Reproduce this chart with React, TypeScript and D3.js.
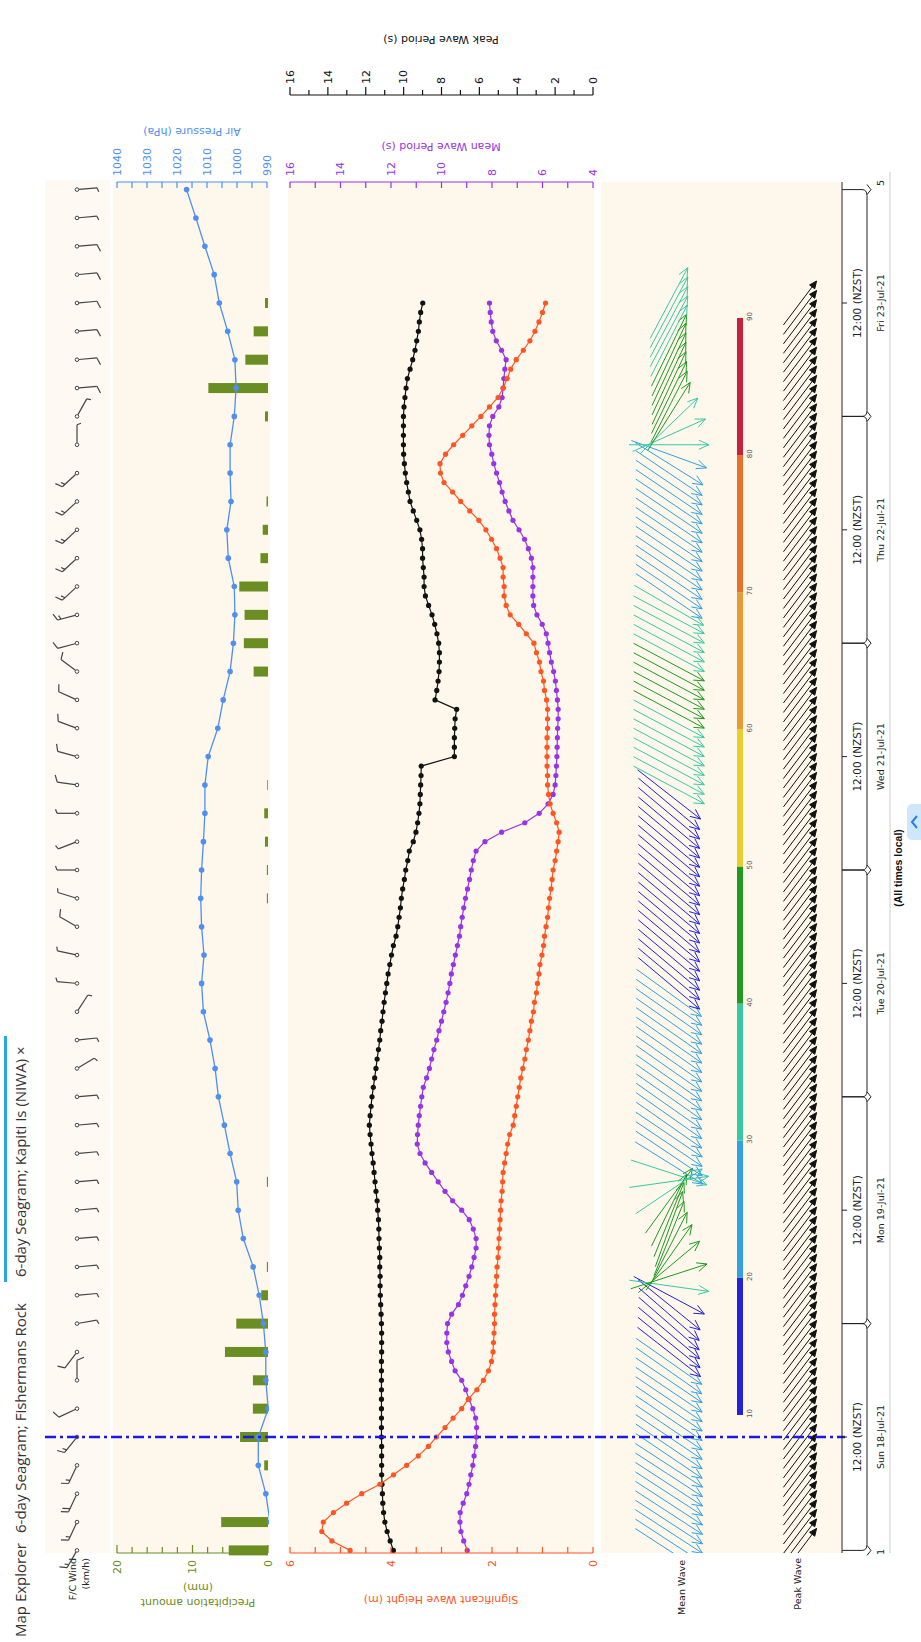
import React from 'react';
import * as d3 from 'd3';

// The chart is laid out as a landscape meteogram (1642 x 921) and rotated onto the portrait page.
const LW = 1642;
const PAGE_W = 921;

const dayLabels = ['Sun 18-Jul-21', 'Mon 19-Jul-21', 'Tue 20-Jul-21', 'Wed 21-Jul-21', 'Thu 22-Jul-21', 'Fri 23-Jul-21'];
const hourly = d3.range(0, 133);
const threeHourly = d3.range(0, 145, 3);

// significant wave height (m), hourly
const waveHeight = [
  4.81, 5.17, 5.37, 5.34, 5.14, 4.88, 4.58, 4.22, 3.95, 3.69, 3.46, 3.26, 3.10, 2.93, 2.77, 2.60, 2.47, 2.30, 2.17, 2.07,
  2.01, 1.98, 1.97, 1.96, 1.95, 1.95, 1.94, 1.93, 1.92, 1.91, 1.90, 1.88, 1.87, 1.86, 1.85, 1.84, 1.83, 1.82, 1.80, 1.79,
  1.78, 1.75, 1.72, 1.69, 1.65, 1.58, 1.55, 1.52, 1.49, 1.46, 1.43, 1.39, 1.35, 1.32, 1.28, 1.25, 1.22, 1.18, 1.16, 1.12,
  1.10, 1.07, 1.05, 1.01, 0.98, 0.96, 0.93, 0.90, 0.88, 0.86, 0.83, 0.81, 0.79, 0.75, 0.72, 0.69, 0.67, 0.72, 0.79, 0.85,
  0.88, 0.90, 0.90, 0.91, 0.91, 0.91, 0.91, 0.90, 0.90, 0.90, 0.92, 0.96, 0.98, 1.03, 1.06, 1.12, 1.17, 1.32, 1.47, 1.64,
  1.72, 1.76, 1.76, 1.78, 1.78, 1.84, 1.91, 2.01, 2.12, 2.26, 2.44, 2.62, 2.78, 2.95, 3.02, 3.03, 2.92, 2.76, 2.58, 2.40,
  2.22, 2.05, 1.88, 1.78, 1.70, 1.63, 1.52, 1.38, 1.25, 1.15, 1.07, 1.00, 0.94,
];

// mean wave period (s), hourly
const meanPeriod = [
  8.98, 9.12, 9.23, 9.27, 9.26, 9.14, 9.00, 8.91, 8.84, 8.76, 8.71, 8.65, 8.62, 8.61, 8.65, 8.76, 8.91, 9.04, 9.20, 9.46,
  9.60, 9.73, 9.79, 9.79, 9.76, 9.60, 9.33, 9.17, 9.04, 8.91, 8.80, 8.71, 8.63, 8.63, 8.74, 8.90, 9.20, 9.56, 9.86, 10.13,
  10.39, 10.65, 10.85, 10.96, 10.95, 10.92, 10.88, 10.83, 10.78, 10.72, 10.59, 10.48, 10.39, 10.30, 10.19, 10.10, 10.00, 9.91, 9.82, 9.74,
  9.67, 9.61, 9.53, 9.45, 9.37, 9.29, 9.24, 9.18, 9.12, 9.05, 8.97, 8.89, 8.82, 8.74, 8.63, 8.28, 7.62, 6.70, 6.13, 5.78,
  5.58, 5.50, 5.47, 5.45, 5.43, 5.42, 5.41, 5.40, 5.38, 5.38, 5.41, 5.45, 5.49, 5.56, 5.65, 5.72, 5.78, 5.85, 6.01, 6.22,
  6.35, 6.38, 6.38, 6.38, 6.38, 6.44, 6.56, 6.71, 6.93, 7.17, 7.33, 7.48, 7.60, 7.70, 7.82, 7.93, 8.01, 8.10, 8.12, 8.10,
  7.97, 7.73, 7.60, 7.56, 7.53, 7.49, 7.44, 7.62, 7.83, 7.97, 8.03, 8.07, 8.10,
];

// peak wave period (s), hourly
const peakPeriod = [
  10.54, 10.71, 10.87, 10.99, 11.06, 11.10, 11.12, 11.14, 11.16, 11.16, 11.16, 11.16, 11.17, 11.17, 11.17, 11.17, 11.17, 11.17, 11.17, 11.17,
  11.17, 11.16, 11.16, 11.16, 11.17, 11.19, 11.21, 11.23, 11.24, 11.24, 11.26, 11.26, 11.28, 11.30, 11.31, 11.33, 11.37, 11.40, 11.46, 11.51,
  11.56, 11.61, 11.67, 11.72, 11.77, 11.81, 11.77, 11.72, 11.67, 11.60, 11.53, 11.46, 11.40, 11.33, 11.26, 11.21, 11.14, 11.09, 11.03, 10.96,
  10.89, 10.82, 10.73, 10.64, 10.54, 10.40, 10.31, 10.24, 10.17, 10.12, 10.05, 9.96, 9.89, 9.78, 9.70, 9.49, 9.35, 9.26, 9.19, 9.14,
  9.12, 9.10, 9.08, 9.07, 7.32, 7.32, 7.32, 7.30, 7.28, 7.20, 8.34, 8.25, 8.18, 8.13, 8.11, 8.11, 8.15, 8.24, 8.36, 8.50,
  8.68, 8.85, 8.92, 8.92, 8.96, 9.00, 9.00, 9.05, 9.14, 9.31, 9.49, 9.66, 9.75, 9.84, 9.91, 9.96, 10.00, 10.01, 10.01, 10.01,
  10.01, 9.98, 9.93, 9.87, 9.80, 9.66, 9.52, 9.40, 9.31, 9.22, 9.17, 9.10, 8.99,
];

// air pressure (hPa), 3-hourly
const pressure = [
  986.0, 989.0, 990.4, 992.9, 992.9, 989.6, 990.4, 990.4, 991.2, 992.6, 994.6, 997.9, 999.6, 1000.1, 1002.3, 1004.2, 1006.2,
  1007.3, 1009.0, 1011.2, 1011.8, 1011.0, 1011.8, 1012.1, 1011.8, 1011.2, 1010.7, 1010.7, 1009.6, 1006.4, 1004.6, 1002.3, 1001.2,
  1000.7, 1000.9, 1002.9, 1003.4, 1002.0, 1002.3, 1002.3, 1000.9, 1000.3, 1000.7, 1003.1, 1005.9, 1007.6, 1010.7, 1013.7, 1016.8,
];

// precipitation amount (mm), 3-hourly
const precip = [
  5.2, 6.2, 0, 0.5, 3.7, 2.0, 2.0, 5.7, 4.2, 0.9, 0.15, 0, 0, 0.15, 0, 0, 0,
  0, 0, 0, 0, 0, 0, 0.15, 0.15, 0.4, 0.5, 0.1, 0, 0, 0, 1.9, 3.2,
  3.1, 3.8, 1.0, 0.7, 0.2, 0, 0, 0.4, 7.9, 3.0, 1.9, 0.4, 0, 0, 0, 0,
];

// forecast wind, 3-hourly: direction (deg, from) and speed (km/h)
const windDir = [
  300, 295, 295, 295, 309, 335, 90, 307, 170, 175, 175, 175, 175, 175, 175, 175, 175,
  149, 174, 123, 5, 12, 30, 17, 0, 339, 0, 8, 15, 20, 24, 37, 345,
  345, 317, 317, 317, 317, 317, 90, 119, 175, 175, 175, 175, 175, 175, 175, 175,
];
const windSpeed = [
  30, 35, 40, 35, 30, 25, 20, 25, 15, 12, 12, 12, 12, 12, 12, 12, 12,
  12, 15, 12, 15, 12, 20, 15, 15, 15, 15, 20, 20, 22, 22, 20, 25,
  30, 30, 32, 35, 32, 30, 12, 15, 20, 20, 22, 22, 20, 20, 18, 15,
];

// mean wave: direction of travel (deg) and colour value, hourly
const meanWaveDir = [
  213, 213, 213, 213, 213, 213, 213, 213, 213, 213, 214, 214, 214, 214, 214, 214, 214, 214, 214, 215,
  215, 218, 219, 220, 221, 221, 219, 208, 188, 162, 140, 125, 117, 112, 110, 112, 116, 126, 146, 172,
  198, 212, 214, 214, 214, 215, 215, 215, 215, 215, 215, 215, 215, 215, 215, 215, 215, 215, 215, 216,
  220, 220, 220, 220, 220, 220, 220, 220, 220, 220, 220, 220, 220, 220, 220, 220, 220, 220, 220, 220,
  218, 208, 208, 208, 208, 208, 208, 208, 208, 208, 208, 208, 208, 208, 208, 208, 208, 208, 208, 208,
  210, 214, 214, 214, 214, 214, 214, 214, 214, 214, 214, 214, 214, 214, 214, 212, 200, 180, 156, 136,
  122, 117, 116, 115, 115, 115, 115, 116, 117, 118, 118, 118, 118,
];
const meanWaveCol = [
  25, 25, 25, 25, 25, 25, 25, 25, 25, 25, 25, 25, 25, 25, 25, 25, 25, 25, 25, 25,
  25, 15, 15, 15, 15, 15, 15, 15, 35, 45, 45, 45, 45, 45, 45, 45, 45, 45, 35, 35,
  35, 25, 25, 25, 25, 25, 25, 25, 25, 25, 25, 25, 25, 25, 25, 25, 25, 25, 25, 25,
  15, 15, 15, 15, 15, 15, 15, 15, 15, 15, 15, 15, 15, 15, 15, 15, 15, 15, 15, 15,
  15, 35, 35, 35, 35, 35, 35, 35, 35, 45, 45, 45, 45, 45, 45, 35, 35, 35, 35, 35,
  35, 25, 25, 25, 25, 25, 25, 25, 25, 25, 25, 25, 25, 25, 25, 25, 25, 35, 35, 35,
  45, 45, 45, 45, 45, 45, 45, 45, 35, 35, 35, 35, 35,
];
// peak wave: direction of travel (deg), hourly
const peakWaveDir = [
  127, 127, 127, 127, 127, 127, 127, 127, 127, 127, 127, 127, 127, 127, 127, 127, 127, 127, 127, 127,
  127, 127, 127, 127, 127, 127, 127, 127, 127, 127, 127, 127, 127, 127, 127, 127, 127, 127, 127, 127,
  127, 127, 127, 127, 127, 127, 127, 127, 127, 127, 127, 127, 127, 127, 127, 127, 127, 127, 127, 127,
  127, 127, 127, 127, 127, 127, 127, 127, 127, 127, 127, 127, 127, 127, 127, 127, 127, 127, 127, 127,
  127, 127, 127, 127, 127, 127, 127, 127, 127, 127, 127, 127, 127, 127, 127, 127, 127, 127, 127, 127,
  127, 127, 127, 127, 127, 127, 127, 127, 127, 127, 127, 127, 127, 127, 127, 127, 127, 127, 127, 127,
  127, 127, 127, 127, 127, 127, 127, 127, 127, 127, 127, 127, 127,
];

const colorStops = [10, 20, 30, 40, 50, 60, 70, 80, 90];
const colorBands = ['#2222dd', '#33a0e4', '#38c9a4', '#1f9b1f', '#e6cf2a', '#e89b33', '#e8702a', '#c8203f'];

const PLOT_L = 89;
const PLOT_R = 1460;
const ORANGE = '#ff5522';
const PURPLE = '#9933e6';
const PBLUE = '#4f8ff2';
const OLIVE = '#6b8e23';
const PANEL = '#fdf7ec';
const FONT = 'DejaVu Sans, Verdana, sans-serif';

const x = d3.scaleLinear().domain([0, 144]).range([91.6, 1452.4]);
const yHs = d3.scaleLinear().domain([0, 6]).range([593, 290]);
const yTm = d3.scaleLinear().domain([4, 16]).range([593, 290]);
const yTp = d3.scaleLinear().domain([0, 16]).range([593, 290]);
const yPres = d3.scaleLinear().domain([990, 1040]).range([267, 117]);
const yRain = d3.scaleLinear().domain([0, 20]).range([268, 117]);
const xColor = d3.scaleLinear().domain([10, 90]).range([227, 1324]);
const colorOf = d3.scaleThreshold<number, string>().domain(colorStops.slice(1, -1)).range(colorBands);

function Barb({ cx, cy, dir, speed }: { cx: number; cy: number; dir: number; speed: number }) {
  const r = (dir * Math.PI) / 180;
  const ux = Math.sin(r);
  const uy = -Math.cos(r);
  const L = 20;
  const ex = cx + ux * L;
  const ey = cy + uy * L;
  const nx = -uy;
  const ny = ux;
  const full = Math.floor(speed / 18.5);
  const half = speed % 18.5 >= 9 ? 1 : 0;
  const feathers: string[] = [];
  let k = 0;
  for (let i = 0; i < full; i++, k++) {
    const bx = ex - ux * k * 3.5;
    const by = ey - uy * k * 3.5;
    feathers.push(`M${bx},${by}L${bx + nx * 7 + ux * 3},${by + ny * 7 + uy * 3}`);
  }
  if (half) {
    const bx = ex - ux * k * 3.5;
    const by = ey - uy * k * 3.5;
    feathers.push(`M${bx},${by}L${bx + nx * 4 + ux * 1.5},${by + ny * 4 + uy * 1.5}`);
  }
  return (
    <g stroke="#444" fill="none" strokeWidth={1.2}>
      <circle cx={cx} cy={cy} r={1.8} fill="#fff" strokeWidth={1} />
      <path d={`M${cx + ux * 2},${cy + uy * 2}L${ex},${ey}`} />
      {feathers.map((d, i) => (
        <path key={i} d={d} />
      ))}
    </g>
  );
}

function Arrow({ cx, cy, dir, len, color, filled, head }: any) {
  const r = (dir * Math.PI) / 180;
  const ux = Math.sin(r);
  const uy = -Math.cos(r);
  const tx = cx - (ux * len) / 2;
  const ty = cy - (uy * len) / 2;
  const hx = cx + (ux * len) / 2;
  const hy = cy + (uy * len) / 2;
  const a = (24 * Math.PI) / 180;
  const w1x = hx - head * (ux * Math.cos(a) - uy * Math.sin(a));
  const w1y = hy - head * (uy * Math.cos(a) + ux * Math.sin(a));
  const w2x = hx - head * (ux * Math.cos(a) + uy * Math.sin(a));
  const w2y = hy - head * (uy * Math.cos(a) - ux * Math.sin(a));
  return (
    <g stroke={color} strokeWidth={1} fill={filled ? color : 'none'}>
      <line x1={tx} y1={ty} x2={hx} y2={hy} />
      {filled ? (
        <path d={`M${hx},${hy}L${w1x},${w1y}L${w2x},${w2y}Z`} />
      ) : (
        <path d={`M${w1x},${w1y}L${hx},${hy}L${w2x},${w2y}`} />
      )}
    </g>
  );
}

export default function App() {
  const hsLine = d3.line<number>().x((t) => x(t)).y((t) => yHs(waveHeight[t]));
  const tmLine = d3.line<number>().x((t) => x(t)).y((t) => yTm(meanPeriod[t]));
  const tpLine = d3.line<number>().x((t) => x(t)).y((t) => yTp(peakPeriod[t]));
  const presLine = d3.line<number>().x((t) => x(t)).y((t, i) => yPres(pressure[i]));

  const days = d3.range(0, 6);
  const nowX = x(12);

  return (
    <div style={{ position: 'absolute', left: 0, top: 0 }}>
      <svg width={PAGE_W} height={LW} style={{ display: 'block', background: '#fff' }}>
        <defs>
          <clipPath id="clipPres">
            <rect x={PLOT_L} y={113} width={PLOT_R - PLOT_L} height={156} />
          </clipPath>
          <clipPath id="clipArrows">
            <rect x={PLOT_L} y={600} width={PLOT_R - PLOT_L} height={240} />
          </clipPath>
        </defs>
        <g transform={`translate(0,${LW}) rotate(-90)`} fontFamily={FONT}>
          {/* title bar */}
          <text x={5} y={26} fontSize={15} fill="#333" fontFamily="Open Sans, sans-serif">Map Explorer</text>
          <text x={109} y={26} fontSize={15} fill="#333" fontFamily="Open Sans, sans-serif">6-day Seagram; Fishermans Rock</text>
          <rect x={360} y={4} width={246} height={3} fill="#29a8e0" />
          <text x={365} y={26} fontSize={15} fill="#333" fontFamily="Open Sans, sans-serif">6-day Seagram; Kapiti Is (NIWA)  ×</text>

          {/* panel backgrounds */}
          <rect x={PLOT_L} y={45} width={PLOT_R - PLOT_L + 2} height={65} fill="#fefaf3" />
          <rect x={PLOT_L} y={113} width={PLOT_R - PLOT_L} height={157} fill={PANEL} />
          <rect x={PLOT_L} y={288} width={PLOT_R - PLOT_L} height={306} fill={PANEL} />
          <rect x={PLOT_L} y={601} width={PLOT_R - PLOT_L} height={240} fill={PANEL} />

          {/* wind */}
          <text x={84} y={76} fontSize={9.5} textAnchor="end" fill="#222">F/C Wind</text>
          <text x={84} y={89} fontSize={9.5} textAnchor="end" fill="#222">(km/h)</text>
          {threeHourly.map((t, i) => (
            <Barb key={t} cx={x(t)} cy={77} dir={windDir[i]} speed={windSpeed[i]} />
          ))}

          {/* precipitation bars */}
          {threeHourly.map((t, i) =>
            precip[i] > 0 ? (
              <rect key={t} x={x(t) - 5} y={yRain(precip[i])} width={10} height={yRain(0) - yRain(precip[i])} fill={OLIVE} />
            ) : null
          )}
          {/* pressure */}
          <g clipPath="url(#clipPres)">
            <path d={presLine(threeHourly) || ''} fill="none" stroke={PBLUE} strokeWidth={1.3} />
            {threeHourly.map((t, i) => (
              <circle key={t} cx={x(t)} cy={yPres(pressure[i])} r={2.8} fill={PBLUE} />
            ))}
          </g>

          {/* precipitation axis */}
          <g stroke={OLIVE} strokeWidth={1.2}>
            <line x1={PLOT_L} x2={PLOT_L} y1={yRain(20)} y2={yRain(0)} />
            {d3.range(0, 21, 2).map((v) => (
              <line key={v} x1={PLOT_L} x2={PLOT_L + (v % 10 === 0 ? 8 : 6)} y1={yRain(v)} y2={yRain(v)} />
            ))}
          </g>
          {[0, 10, 20].map((v) => (
            <text key={v} x={82} y={yRain(v)} dy="0.35em" textAnchor="end" fontSize={11} fill={OLIVE}>{v}</text>
          ))}
          <g transform="translate(43,198) rotate(-90)">
            <text textAnchor="middle" fontSize={11} fill={OLIVE}>Precipitation amount</text>
            <text y={15} textAnchor="middle" fontSize={11} fill={OLIVE}>(mm)</text>
          </g>

          {/* pressure axis */}
          <g stroke={PBLUE} strokeWidth={1.2}>
            <line x1={PLOT_R} x2={PLOT_R} y1={yPres(1040)} y2={yPres(990)} />
            {d3.range(990, 1041, 5).map((v) => (
              <line key={v} x1={PLOT_R} x2={PLOT_R - 6} y1={yPres(v)} y2={yPres(v)} />
            ))}
          </g>
          {d3.range(990, 1041, 10).map((v) => (
            <text key={v} x={1466} y={yPres(v)} dy="0.35em" fontSize={11} fill={PBLUE}>{v}</text>
          ))}
          <text transform="translate(1514,192) rotate(-90)" textAnchor="middle" fontSize={11} fill={PBLUE}>Air Pressure (hPa)</text>

          {/* wave lines */}
          <path d={tpLine(hourly) || ''} fill="none" stroke="#111" strokeWidth={1.2} />
          {hourly.map((t) => (
            <circle key={'p' + t} cx={x(t)} cy={yTp(peakPeriod[t])} r={2.6} fill="#111" />
          ))}
          <path d={tmLine(hourly) || ''} fill="none" stroke={PURPLE} strokeWidth={1.2} />
          {hourly.map((t) => (
            <circle key={'m' + t} cx={x(t)} cy={yTm(meanPeriod[t])} r={2.6} fill={PURPLE} />
          ))}
          <path d={hsLine(hourly) || ''} fill="none" stroke={ORANGE} strokeWidth={1.2} />
          {hourly.map((t) => (
            <circle key={'h' + t} cx={x(t)} cy={yHs(waveHeight[t])} r={2.6} fill={ORANGE} />
          ))}

          {/* wave height axis */}
          <g stroke={ORANGE} strokeWidth={1.2}>
            <line x1={PLOT_L} x2={PLOT_L} y1={yHs(6)} y2={yHs(0)} />
            {d3.range(0, 6.01, 0.5).map((v) => (
              <line key={v} x1={PLOT_L} x2={PLOT_L + 6} y1={yHs(v)} y2={yHs(v)} />
            ))}
          </g>
          {[0, 2, 4, 6].map((v) => (
            <text key={v} x={82} y={yHs(v)} dy="0.35em" textAnchor="end" fontSize={11} fill={ORANGE}>{v}</text>
          ))}
          <text transform="translate(46,441) rotate(-90)" textAnchor="middle" fontSize={11} fill={ORANGE}>Significant Wave Height (m)</text>

          {/* mean period axis */}
          <g stroke={PURPLE} strokeWidth={1.2}>
            <line x1={PLOT_R} x2={PLOT_R} y1={yTm(16)} y2={yTm(4)} />
            {d3.range(4, 17, 1).map((v) => (
              <line key={v} x1={PLOT_R} x2={PLOT_R - 6} y1={yTm(v)} y2={yTm(v)} />
            ))}
          </g>
          {d3.range(4, 17, 2).map((v) => (
            <text key={v} x={1466} y={yTm(v)} dy="0.35em" fontSize={11} fill={PURPLE}>{v}</text>
          ))}
          <text transform="translate(1499,441) rotate(-90)" textAnchor="middle" fontSize={11} fill={PURPLE}>Mean Wave Period (s)</text>

          {/* peak period axis */}
          <g stroke="#111" strokeWidth={1.2}>
            <line x1={1547} x2={1547} y1={yTp(16)} y2={yTp(0)} />
            {d3.range(0, 17, 1).map((v) => (
              <line key={v} x1={1547} x2={1547 + (v % 2 === 0 ? 8 : 5)} y1={yTp(v)} y2={yTp(v)} />
            ))}
          </g>
          {d3.range(0, 17, 2).map((v) => (
            <text key={v} x={1558} y={yTp(v)} dy="0.35em" fontSize={11} fill="#111">{v}</text>
          ))}
          <text transform="translate(1606,441) rotate(-90)" textAnchor="middle" fontSize={11} fill="#111">Peak Wave Period (s)</text>

          {/* wave direction arrows */}
          <text x={82} y={685} fontSize={9.5} textAnchor="end" fill="#222">Mean Wave</text>
          <text x={84} y={801} fontSize={9.5} textAnchor="end" fill="#222">Peak Wave</text>
          <g clipPath="url(#clipArrows)">
            {hourly.map((t) => (
              <Arrow key={'mw' + t} cx={x(t)} cy={669} dir={meanWaveDir[t]} len={80} head={11} color={colorOf(meanWaveCol[t])} />
            ))}
            {hourly.map((t) => (
              <Arrow key={'pw' + t} cx={x(t)} cy={800} dir={peakWaveDir[t]} len={55} head={8} color="#111" filled />
            ))}
          </g>
          {/* colour bar */}
          {colorBands.map((c, i) => (
            <rect key={c} x={xColor(colorStops[i])} y={737} width={xColor(colorStops[i + 1]) - xColor(colorStops[i])} height={6} fill={c} />
          ))}
          {colorStops.map((v) => (
            <text key={v} x={xColor(v) - 3} y={752} fontSize={7} fill="#555">{v}</text>
          ))}

          {/* now line */}
          <line x1={nowX} x2={nowX} y1={45} y2={845} stroke="#1a1ae6" strokeWidth={2.5} strokeDasharray="11,4,3,4" />

          {/* time axis */}
          <line x1={PLOT_L} x2={PLOT_R} y1={842} y2={842} stroke="#222" strokeWidth={1} />
          {days.map((d) => {
            const x0 = x(d * 24);
            const x1 = x(d * 24 + 24);
            const xm = x(d * 24 + 12);
            return (
              <g key={d}>
                <line x1={xm} x2={xm} y1={842} y2={847} stroke="#222" />
                <path
                  d={`M${x0},842V862Q${x0},867 ${x0 + 6},867H${x1 - 6}Q${x1},867 ${x1},862V842`}
                  fill="none"
                  stroke="#222"
                  strokeWidth={1}
                />
                <path d={`M${x0 - 5},867L${x0},871L${x0 + 5},867`} fill="none" stroke="#222" />
                <text x={xm} y={861} textAnchor="middle" fontSize={10.5} fill="#222">12:00 (NZST)</text>
                <text x={xm} y={884} textAnchor="middle" fontSize={9.5} fill="#222">{dayLabels[d]}</text>
              </g>
            );
          })}
          <path d={`M${x(144) - 5},867L${x(144)},871L${x(144) + 5},867`} fill="none" stroke="#222" />
          <text x={90} y={884} textAnchor="middle" fontSize={9.5} fill="#222">1</text>
          <text x={1459} y={884} textAnchor="middle" fontSize={9.5} fill="#222">5</text>
          <line x1={PLOT_L} x2={PLOT_R + 10} y1={890} y2={890} stroke="#ccc" strokeWidth={1} />
          <text x={774} y={902} textAnchor="middle" fontSize={10.5} fontWeight="bold" fill="#111" fontFamily="Liberation Sans, Arial, sans-serif">(All times local)</text>
          <rect x={802} y={907} width={36} height={20} rx={5} fill="#cfe6fb" />
          <path d="M826,917L820,912L814,917" fill="none" stroke="#2a7fe0" strokeWidth={2} />
        </g>
      </svg>
    </div>
  );
}
